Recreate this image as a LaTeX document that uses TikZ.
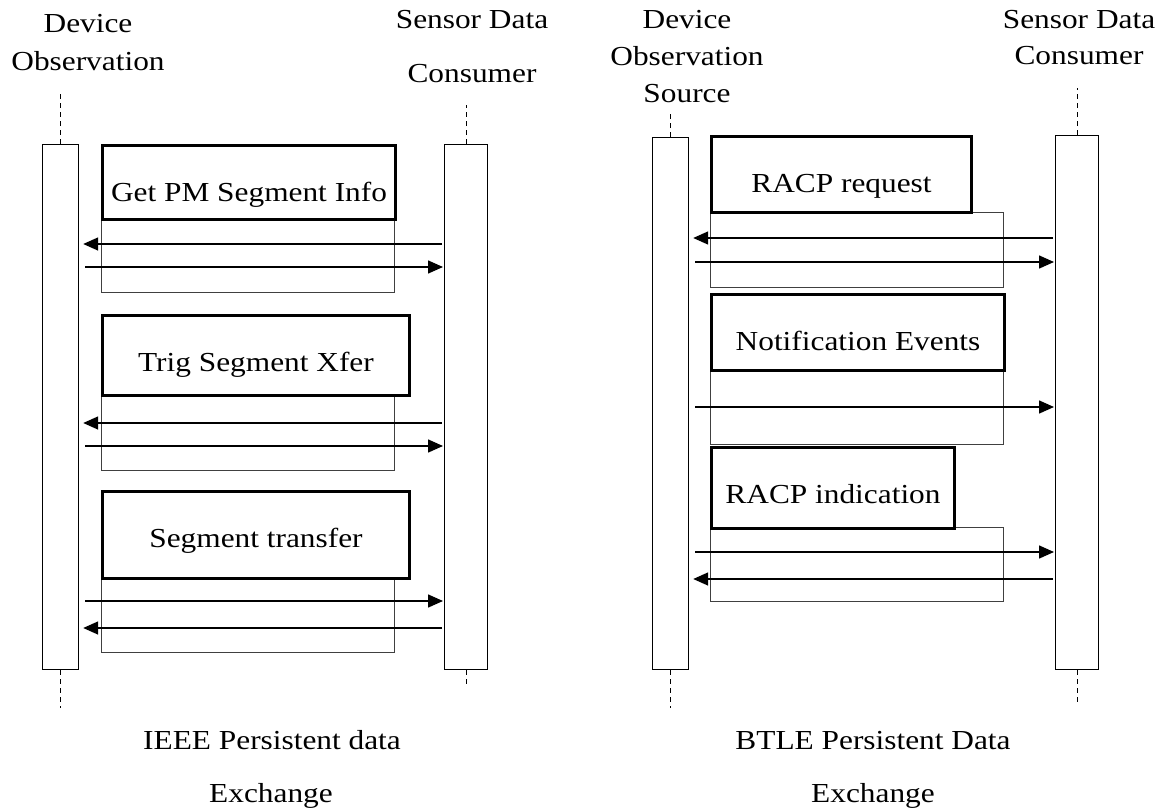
\documentclass[tikz,border=0pt]{standalone}
\usepackage{fontspec}
\setmainfont{Liberation Serif}[FakeStretch=1.14]
\usetikzlibrary{arrows.meta}

\begin{document}
\begin{tikzpicture} [x=1bp, y=-1bp,
            font=\fontsize{27.6}{33}\selectfont,
            bar/.style={draw, line width=1.2bp, anchor=north west,
                inner sep=0pt, minimum width=36bp},
            life/.style={line width=1.2bp, dash pattern=on 5bp off 4bp},
            frame/.style={draw=black!75, line width=1bp, anchor=north west,
                inner sep=0pt, minimum width=293bp, minimum height=75bp},
            stage/.style={draw, line width=3bp, fill=white, anchor=north west,
                inner sep=0pt, text height=56bp},
            msg/.style={line width=1.5bp, -{Triangle[length=15bp,width=13bp]}},
            toL/.style={msg, shorten <=2bp, shorten >=4bp},
            toR/.style={msg, shorten <=6bp, shorten >=1bp},
            lbl/.style={anchor=base, inner sep=0pt}]

        \path [fill=white] (0,0) rectangle (1168,808);
        \useasboundingbox (0,0) rectangle (1168,808);

        % Lifelines IEEE
        \node (devL) [bar, minimum height=525bp] at (42,144) {};
        \node (conL) [bar, minimum width=43bp, minimum height=525bp] at (444,144) {};

        % Lifelines BTLE
        \node (devR) [bar, minimum height=532bp] at (652,137) {};
        \node (conR) [bar, minimum width=43bp, minimum height=534bp] at (1055,135) {};

        % Dashed stubs
        \draw [life] (devL.north) -- ++(0,-53);
        \draw [life] (devL.south) -- ++(0,38);
        \draw [life] (conL.north) -- ++(0,-39);
        \draw [life] (conL.south) -- ++(0,18);
        \draw [life] (devR.north) -- ++(0,-24);
        \draw [life] (devR.south) -- ++(0,38);
        \draw [life] (conR.north) -- ++(0,-47);
        \draw [life] (conR.south) -- ++(0,34);

        % Headers
        \node (hDevL1) [lbl] at (88,33)  {Device};
        \node (hDevL2) [lbl] at (88,71)  {Observation};
        \node (hConL1) [lbl] at (472,29) {Sensor Data};
        \node (hConL2) [lbl] at (472,83) {Consumer};
        \node (hDevR1) [lbl] at (687,29)  {Device};
        \node (hDevR2) [lbl] at (687,66)  {Observation};
        \node (hDevR3) [lbl] at (687,103) {Source};
        \node (hConR1) [lbl] at (1079,29) {Sensor Data};
        \node (hConR2) [lbl] at (1079,65) {Consumer};

        % Frames IEEE
        \node (fL1) [frame, minimum height=74bp] at (101,218) {};
        \node (fL2) [frame] at (101,395) {};
        \node (fL3) [frame] at (101,577) {};

        % Frames BTLE
        \node (fR1) [frame] at (710,212) {};
        \node (fR2) [frame] at (710,369) {};
        \node (fR3) [frame, minimum height=74bp] at (710,527) {};

        % Steps IEEE
        \node (sL1) [stage, minimum width=293bp, text depth=18bp] at (101,144) {Get PM Segment Info};
        \node (sL2) [stage, minimum width=307bp, text depth=24bp] at (101,314) {Trig Segment Xfer};
        \node (sL3) [stage, minimum width=307bp, text depth=31bp] at (101,490) {Segment transfer};

        % Steps BTLE
        \node (sR1) [stage, minimum width=260bp, text depth=20bp] at (710,135) {RACP request};
        \node (sR2) [stage, minimum width=293bp, text depth=20bp] at (710,293) {Notification Events};
        \node (sR3) [stage, minimum width=243bp, text depth=25bp] at (710,446) {RACP indication};

        % Messages IEEE
        \draw [toL] (conL.west |- 0,244) -- (devL.east |- 0,244);
        \draw [toR] (devL.east |- 0,267) -- (conL.west |- 0,267);
        \draw [toL] (conL.west |- 0,423) -- (devL.east |- 0,423);
        \draw [toR] (devL.east |- 0,446) -- (conL.west |- 0,446);
        \draw [toR] (devL.east |- 0,601) -- (conL.west |- 0,601);
        \draw [toL] (conL.west |- 0,628) -- (devL.east |- 0,628);

        % Messages BTLE
        \draw [toL] (conR.west |- 0,238) -- (devR.east |- 0,238);
        \draw [toR] (devR.east |- 0,262) -- (conR.west |- 0,262);
        \draw [toR] (devR.east |- 0,407) -- (conR.west |- 0,407);
        \draw [toR] (devR.east |- 0,552) -- (conR.west |- 0,552);
        \draw [toL] (conR.west |- 0,579) -- (devR.east |- 0,579);

        % Captions
        \node (capL1) [lbl] at (272,749) {IEEE Persistent data};
        \node (capL2) [lbl] at (271,802) {Exchange};
        \node (capR1) [lbl] at (873,749) {BTLE Persistent Data};
        \node (capR2) [lbl] at (873,802) {Exchange};
\end{tikzpicture}
\end{document}
